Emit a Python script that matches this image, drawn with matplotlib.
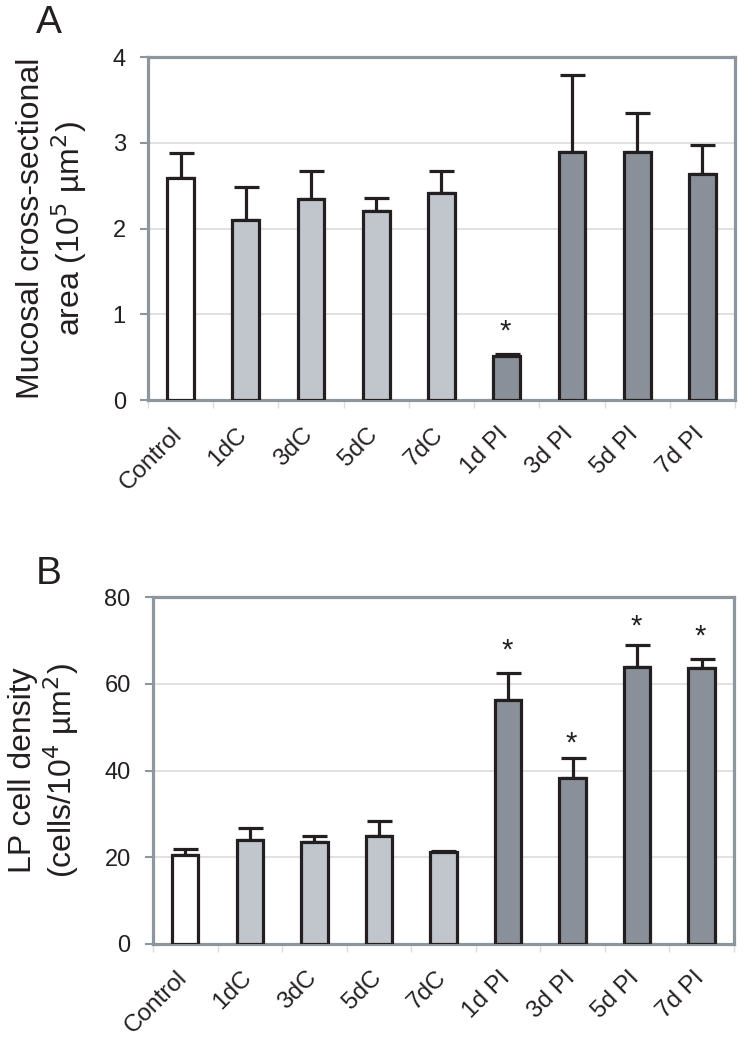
import matplotlib
matplotlib.use("Agg")
import matplotlib.pyplot as plt
import matplotlib.transforms as mtransforms
import numpy as np

plt.rcParams['font.family'] = ['Liberation Sans', 'DejaVu Sans']

categories = ["Control", "1dC", "3dC", "5dC", "7dC", "1d PI", "3d PI", "5d PI", "7d PI"]
groups = ["control", "C", "C", "C", "C", "PI", "PI", "PI", "PI"]

area_mean = [2.59, 2.10, 2.34, 2.20, 2.42, 0.51, 2.89, 2.89, 2.64]
area_err = [0.29, 0.38, 0.33, 0.16, 0.25, 0.03, 0.90, 0.46, 0.33]
area_star = [None, None, None, None, None, 0.85, None, None, None]

dens_mean = [20.5, 24.0, 23.6, 24.9, 21.1, 56.3, 38.3, 63.9, 63.6]
dens_err = [1.3, 2.7, 1.3, 3.5, 0.4, 6.1, 4.5, 5.1, 2.1]
dens_star = [None, None, None, None, None, 68.9, 47.4, 74.4, 72.0]

colors = {"control": "#ffffff", "C": "#c1c5cc", "PI": "#8a9099"}
edge = "#231f20"
spine_c = "#8e969d"
grid_c = "#dcdcdc"

fig = plt.figure(figsize=(7.55, 10.5), dpi=100)
axA = fig.add_axes([0.196, 0.619, 0.7775, 0.3267])
axB = fig.add_axes([0.2026, 0.101, 0.7696, 0.3303])


def draw(ax, means, errs, stars, ymax, step, ylabel, letter, letter_y, dx, dy):
    x = np.arange(len(categories))
    cols = [colors[g] for g in groups]
    ax.bar(x, means, width=0.41, color=cols, edgecolor=edge, linewidth=2.3, zorder=3)
    ax.errorbar(x, means, yerr=[np.zeros(len(means)), errs], fmt='none',
                ecolor=edge, elinewidth=2.3, capsize=9, capthick=2.3, zorder=2)
    for xi, sy in zip(x, stars):
        if sy is not None:
            ax.annotate("*", xy=(xi - 0.02, sy), xytext=(0, -3.5), textcoords='offset points',
                        ha='center', va='center', fontsize=21, color=edge)
    ax.set_xlim(-0.5, len(categories) - 0.5)
    ax.set_ylim(0, ymax)
    ax.set_yticks(np.arange(0, ymax + step / 2, step))
    ax.set_xticks(np.arange(-0.5, len(categories) - 0.4, 1))
    ax.set_xticklabels([])
    ax.tick_params(axis='x', which='major', length=6, width=1, color=grid_c, direction='out')
    ax.tick_params(axis='y', length=6, width=1.5, color=spine_c, labelsize=17,
                   labelcolor=edge, pad=10)
    trans = mtransforms.blended_transform_factory(ax.transData, ax.transAxes) + \
        mtransforms.ScaledTranslation(dx / 100, -dy / 100, fig.dpi_scale_trans)
    for xi, lab in zip(x, categories):
        ax.text(xi, 0, lab, transform=trans, rotation=45, ha='right', va='center',
                rotation_mode='anchor', fontsize=17.5, color=edge, clip_on=False)
    ax.yaxis.grid(True, color=grid_c, linewidth=1.2, zorder=0)
    ax.set_axisbelow(True)
    for sp in ax.spines.values():
        sp.set_color(spine_c)
        sp.set_linewidth(2.3)
    ax.set_ylabel(ylabel, fontsize=23, color=edge, labelpad=17, linespacing=1.1)
    fig.text(0.047, letter_y, letter, fontsize=28, color=edge, ha='left', va='top')


draw(axA, area_mean, area_err, area_star, 4, 1,
     "Mucosal cross-sectional\narea (10$^5$ µm$^2$)", "A", 0.995, -2, 31)
draw(axB, dens_mean, dens_err, dens_star, 80, 20,
     "LP cell density\n(cells/10$^4$ µm$^2$)", "B", 0.47, -1, 30.5)

fig.savefig("out.png", dpi=100)
